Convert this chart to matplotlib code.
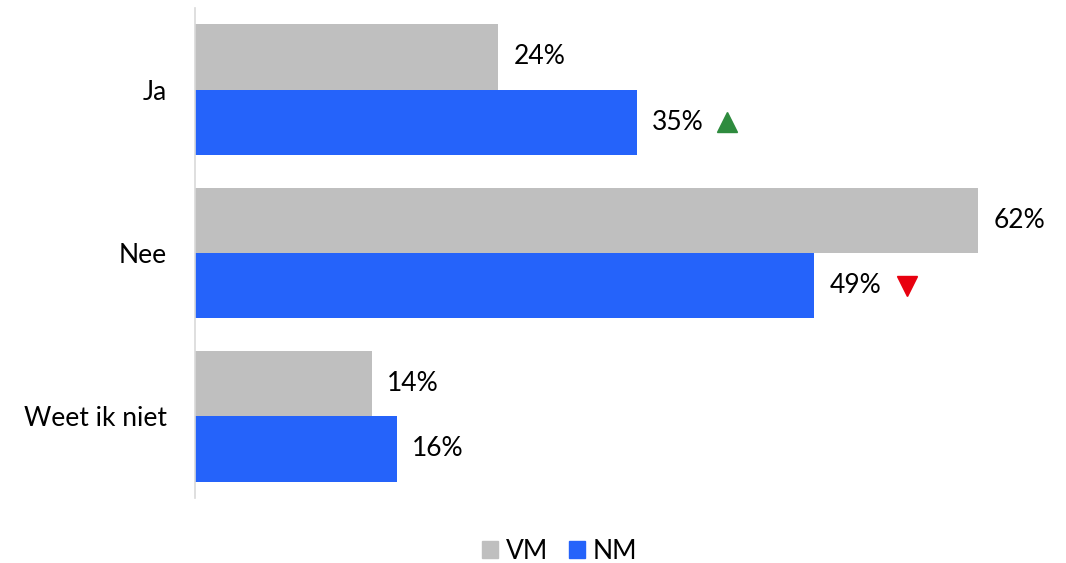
import matplotlib
matplotlib.use("Agg")
import matplotlib.pyplot as plt
from matplotlib.patches import Patch
from matplotlib.transforms import offset_copy

plt.rcParams['font.family'] = ['Lato', 'DejaVu Sans']

categories = ["Ja", "Nee", "Weet ik niet"]
vm = [24, 62, 14]
nm = [35, 49, 16]
nm_trend = ["up", "down", None]
series_names = ["VM", "NM"]

grey = "#BFBFBF"
blue = "#2563FA"

fig = plt.figure(figsize=(10.66, 5.63), dpi=100)
ax = fig.add_axes([0.1829, 0.1155, 0.8058, 0.8703])

ypos = list(range(len(categories)))
h = 0.4
ax.barh([y - h / 2 for y in ypos], vm, height=h, color=grey, align='center')
ax.barh([y + h / 2 for y in ypos], nm, height=h, color=blue, align='center')

fs = 19
for y, v in zip(ypos, vm):
    ax.annotate(f"{v}%", (v, y - h / 2), xytext=(11, 0), textcoords='offset points',
                va='center', ha='left', fontsize=fs, color='#000000')
for y, v, t in zip(ypos, nm, nm_trend):
    ax.annotate(f"{v}%", (v, y + h / 2), xytext=(11, 0), textcoords='offset points',
                va='center', ha='left', fontsize=fs, color='#000000')
    if t == "up":
        tr = offset_copy(ax.transData, fig=fig, x=65, y=0, units='points')
        ax.plot([v], [y + h / 2], marker='^', color='#2E8B3E', markersize=14, transform=tr, clip_on=False)
    elif t == "down":
        tr = offset_copy(ax.transData, fig=fig, x=67, y=0, units='points')
        ax.plot([v], [y + h / 2], marker='v', color='#E8000F', markersize=14, transform=tr, clip_on=False)

ax.set_xlim(0, 68)
ax.set_ylim(len(categories) - 0.5, -0.5)
ax.set_yticks(ypos)
ax.set_yticklabels(categories, fontsize=fs)
ax.tick_params(axis='y', length=0, pad=20)
ax.set_xticks([])
for s in ['top', 'right', 'bottom']:
    ax.spines[s].set_visible(False)
ax.spines['left'].set_color('#D9D9D9')
ax.spines['left'].set_linewidth(1.2)

handles = [Patch(color=grey, label=series_names[0]), Patch(color=blue, label=series_names[1])]
fig.legend(handles=handles, loc='center', bbox_to_anchor=(0.525, 0.021), ncol=2, frameon=False,
           fontsize=fs, handlelength=0.6, handleheight=0.6, handletextpad=0.3, columnspacing=0.8)

fig.savefig("out.png", dpi=100)
